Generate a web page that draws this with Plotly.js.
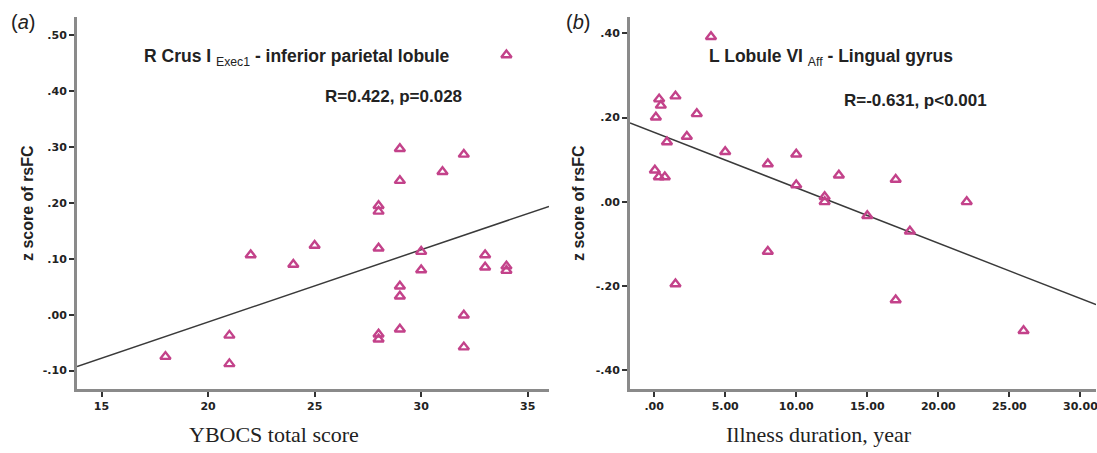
<!DOCTYPE html>
<html>
<head>
<meta charset="utf-8">
<script src="https://cdn.plot.ly/plotly-3.0.1.min.js"></script>
<style>html,body{margin:0;padding:0;background:#fff;}#chart{width:1097px;height:453px;}</style>
</head>
<body>
<div id="chart"></div>
<script>
// Panel (a): YBOCS total score vs z score of rsFC
const ybocsScore = [18, 21, 21, 22, 24, 25, 28, 28, 28, 28, 28, 29, 29, 29, 29, 29, 30, 30, 31, 32, 32, 32, 33, 33, 34, 34, 34];
const rsfcA      = [-0.075, -0.037, -0.088, 0.107, 0.090, 0.124, 0.195, 0.185, 0.119, -0.035, -0.044,
                    0.297, 0.240, 0.051, 0.033, -0.026, 0.113, 0.080, 0.256, 0.287, -0.001, -0.058,
                    0.107, 0.085, 0.465, 0.087, 0.079];
// Panel (b): Illness duration vs z score of rsFC
const illnessYears = [4, 0.35, 0.47, 1.5, 0.12, 3, 2.3, 0.9, 5, 8, 10, 0.05, 0.33, 0.75, 10, 13, 12, 12, 8, 1.5, 17, 15, 18, 22, 17, 26];
const rsfcB        = [0.392, 0.244, 0.229, 0.251, 0.201, 0.209, 0.155, 0.142, 0.119, 0.090, 0.113, 0.075, 0.059, 0.059,
                      0.040, 0.063, 0.012, 0.000, -0.118, -0.195, 0.053, -0.033, -0.070, 0.000, -0.233, -0.306];

const tickValsAY = [-0.1, 0, 0.1, 0.2, 0.3, 0.4, 0.5];
const tickTextAY = ['-.10', '.00', '.10', '.20', '.30', '.40', '.50'];
const tickValsAX = [15, 20, 25, 30, 35];
const tickTextAX = ['15', '20', '25', '30', '35'];
const tickValsBY = [-0.4, -0.2, 0, 0.2, 0.4];
const tickTextBY = ['-.40', '-.20', '.00', '.20', '.40'];
const tickValsBX = [0, 5, 10, 15, 20, 25, 30];
const tickTextBX = ['.00', '5.00', '10.00', '15.00', '20.00', '25.00', '30.00'];

const titleA = '<b>R Crus I </b><sub>Exec1</sub><b> - inferior parietal lobule</b>';
const statA = '<b>R=0.422, p=0.028</b>';
const titleB = '<b>L Lobule VI </b><sub>Aff</sub><b> - Lingual gyrus</b>';
const statB = '<b>R=-0.631, p<0.001</b>';
const xTitleA = 'YBOCS total score';
const xTitleB = 'Illness duration, year';
const yTitle = '<b>z score of rsFC</b>';

const rangeAX = [13.85, 36.0];
const rangeBX = [-1.7, 31.1];

function linFit(x, y) {
  const n = x.length;
  const mx = x.reduce((a, b) => a + b, 0) / n;
  const my = y.reduce((a, b) => a + b, 0) / n;
  let sxy = 0, sxx = 0;
  for (let i = 0; i < n; i++) { sxy += (x[i] - mx) * (y[i] - my); sxx += (x[i] - mx) ** 2; }
  const b = sxy / sxx;
  return { a: my - b * mx, b: b };
}
const fitA = linFit(ybocsScore, rsfcA);
const fitB = linFit(illnessYears, rsfcB);

const markerStyle = { symbol: 'triangle-up-open', size: 9, color: '#c3428a', line: { width: 2.4, color: '#c3428a' } };
const lineStyle = { color: '#3a3a3a', width: 1.5 };

const traces = [
  { x: rangeAX, y: rangeAX.map(v => fitA.a + fitA.b * v), mode: 'lines', line: lineStyle, xaxis: 'x', yaxis: 'y', hoverinfo: 'skip' },
  { x: ybocsScore, y: rsfcA, mode: 'markers', marker: markerStyle, xaxis: 'x', yaxis: 'y' },
  { x: rangeBX, y: rangeBX.map(v => fitB.a + fitB.b * v), mode: 'lines', line: lineStyle, xaxis: 'x2', yaxis: 'y2', hoverinfo: 'skip' },
  { x: illnessYears, y: rsfcB, mode: 'markers', marker: markerStyle, xaxis: 'x2', yaxis: 'y2' }
];

const sans = 'Liberation Sans, Arial, sans-serif';
const tickFont = { family: 'DejaVu Sans, Verdana, sans-serif', size: 11, color: '#222', weight: 'bold' };

const axisCommon = {
  showgrid: false, zeroline: false, showline: true, linecolor: '#8a8a8a', linewidth: 3,
  ticks: 'outside', ticklen: 5, tickwidth: 2, tickcolor: '#333', tickfont: tickFont, mirror: false,
  ticklabeloverflow: 'allow'
};

function px(a) { a.xref = 'paper'; a.yref = 'paper'; a.x = a.x / 1097; a.y = 1 - a.y / 453; a.showarrow = false; return a; }

const layout = {
  width: 1097, height: 453,
  margin: { l: 0, r: 0, t: 0, b: 0 },
  paper_bgcolor: '#fff', plot_bgcolor: '#fff',
  showlegend: false,
  xaxis: Object.assign({}, axisCommon, { domain: [0.0702, 0.5005], range: rangeAX, tickvals: tickValsAX, ticktext: tickTextAX, anchor: 'y' }),
  yaxis: Object.assign({}, axisCommon, { domain: [0.1413, 0.9625], range: [-0.133, 0.533], tickvals: tickValsAY, ticktext: tickTextAY, anchor: 'x' }),
  xaxis2: Object.assign({}, axisCommon, { domain: [0.5743, 0.9991], range: rangeBX, tickvals: tickValsBX, ticktext: tickTextBX, anchor: 'y2' }),
  yaxis2: Object.assign({}, axisCommon, { domain: [0.1413, 0.9625], range: [-0.4445, 0.439], tickvals: tickValsBY, ticktext: tickTextBY, anchor: 'x2' }),
  annotations: [
    px({ text: '(<i>a</i>)', x: 9, y: 22, xanchor: 'left', yanchor: 'middle', font: { family: sans, size: 20, color: '#222' } }),
    px({ text: '(<i>b</i>)', x: 564, y: 22, xanchor: 'left', yanchor: 'middle', font: { family: sans, size: 20, color: '#222' } }),
    px({ text: titleA, x: 142, y: 58, xanchor: 'left', yanchor: 'middle', font: { family: sans, size: 17.5, color: '#222' } }),
    px({ text: statA, x: 323, y: 97, xanchor: 'left', yanchor: 'middle', font: { family: sans, size: 17, color: '#222' } }),
    px({ text: titleB, x: 707, y: 58, xanchor: 'left', yanchor: 'middle', font: { family: sans, size: 17.5, color: '#222' } }),
    px({ text: statB, x: 842, y: 100, xanchor: 'left', yanchor: 'middle', font: { family: sans, size: 17, color: '#222' } }),
    px({ text: xTitleA, x: 274, y: 434, xanchor: 'center', yanchor: 'middle', font: { family: 'Liberation Serif, Times New Roman, serif', size: 22, color: '#222' } }),
    px({ text: xTitleB, x: 819, y: 434, xanchor: 'center', yanchor: 'middle', font: { family: 'Liberation Serif, Times New Roman, serif', size: 22, color: '#222' } }),
    px({ text: yTitle, x: 27, y: 203, xanchor: 'center', yanchor: 'middle', textangle: -90, font: { family: sans, size: 16, color: '#222' } }),
    px({ text: yTitle, x: 578, y: 203, xanchor: 'center', yanchor: 'middle', textangle: -90, font: { family: sans, size: 16, color: '#222' } })
  ]
};

Plotly.newPlot('chart', traces, layout, { staticPlot: true, displayModeBar: false });
</script>
</body>
</html>
